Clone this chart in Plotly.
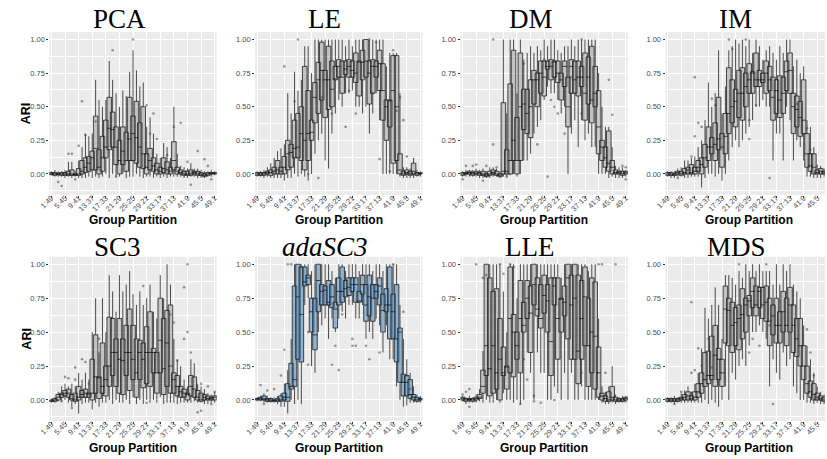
import plotly.graph_objects as go

categories = ["1:49","2:48","3:47","4:46","5:45","6:44","7:43","8:42","9:41","10:40",
              "11:39","12:38","13:37","14:36","15:35","16:34","17:33","18:32","19:31","20:30",
              "21:29","22:28","23:27","24:26","25:25","26:24","27:23","28:22","29:21","30:20",
              "31:19","32:18","33:17","34:16","35:15","36:14","37:13","38:12","39:11","40:10",
              "41:9","42:8","43:7","44:6","45:5","46:4","47:3","48:2","49:1"]
tick_labels = ["1:49","5:45","9:41","13:37","17:33","21:29","25:25","29:21","33:17","37:13","41:9","45:5","49:1"]
y_ticks = [0.0, 0.25, 0.5, 0.75, 1.0]
y_tick_text = ["0.00", "0.25", "0.50", "0.75", "1.00"]

# (lower whisker, q1, median, q3, upper whisker) per group partition
PCA = [(-0.01,-0.005,0.0,0.01,0.02),(-0.02,-0.01,0.0,0.01,0.03),(-0.02,-0.005,0.0,0.005,0.02),(-0.02,-0.01,0.0,0.01,0.02),
       (-0.03,-0.01,0.0,0.01,0.03),(-0.02,-0.01,0.0,0.02,0.09),(-0.03,-0.01,0.0,0.03,0.09),(-0.02,-0.01,-0.005,0.0,0.02),
       (-0.03,-0.01,0.0,0.04,0.1),(-0.03,0.0,0.02,0.1,0.2),(-0.03,0.01,0.05,0.12,0.3),(-0.02,0.02,0.08,0.13,0.28),
       (-0.03,0.03,0.12,0.17,0.3),(-0.02,0.03,0.19,0.43,0.7),(-0.03,0.0,0.05,0.18,0.55),(-0.02,0.02,0.12,0.28,0.5),
       (0.0,0.12,0.2,0.4,0.55),(-0.03,0.18,0.34,0.57,0.84),(0.0,0.2,0.33,0.46,0.7),(-0.02,0.07,0.2,0.35,0.6),
       (-0.02,0.0,0.1,0.25,0.5),(0.0,0.07,0.17,0.35,0.62),(-0.03,0.02,0.1,0.31,0.58),(-0.02,0.1,0.26,0.57,0.76),
       (-0.02,0.1,0.3,0.43,0.92),(0.0,0.08,0.27,0.54,0.77),(-0.02,0.05,0.2,0.38,0.65),(-0.03,0.04,0.15,0.5,0.68),
       (-0.02,0.0,0.05,0.15,0.35),(-0.02,0.03,0.1,0.19,0.42),(-0.03,0.02,0.06,0.12,0.3),(-0.02,0.0,0.03,0.08,0.15),
       (-0.03,0.0,0.02,0.05,0.12),(-0.02,0.01,0.04,0.12,0.23),(-0.03,0.0,0.03,0.09,0.2),(-0.02,0.0,0.02,0.05,0.12),
       (-0.02,0.03,0.1,0.24,0.5),(-0.02,0.0,0.02,0.05,0.15),(-0.02,0.0,0.01,0.03,0.06),(-0.03,-0.01,0.0,0.02,0.05),
       (-0.03,-0.01,0.0,0.02,0.04),(-0.02,-0.01,0.0,0.03,0.08),(-0.02,0.0,0.01,0.02,0.04),(-0.03,-0.01,0.0,0.02,0.04),
       (-0.03,-0.01,0.0,0.01,0.03),(-0.03,-0.02,-0.01,0.0,0.02),(-0.02,-0.01,0.0,0.01,0.02),(-0.02,0.0,0.005,0.01,0.03),
       (-0.01,0.0,0.005,0.01,0.02)]
PCA_out = [(3,-0.06),(4,-0.09),(6,0.15),(7,0.15),(8,-0.04),(9,0.21),(10,0.54),(11,0.29),(14,0.39),(19,0.92),(25,1.0),
           (20,-0.02),(29,0.51),(30,0.3),(31,0.45),(32,0.26),(35,0.14),(37,0.35),(39,0.38),(41,0.09),(42,-0.08),
           (44,0.17),(46,0.11),(47,0.06),(48,-0.04)]

LE = [(-0.02,-0.01,0.0,0.01,0.02),(-0.02,-0.01,0.0,0.01,0.02),(-0.03,-0.01,0.0,0.01,0.03),(-0.02,0.0,0.01,0.02,0.05),
      (-0.03,-0.01,0.01,0.03,0.08),(-0.03,0.0,0.02,0.05,0.12),(-0.03,0.0,0.03,0.1,0.17),(-0.03,0.0,0.02,0.05,0.19),
      (-0.05,0.0,0.05,0.13,0.22),(-0.03,0.03,0.15,0.25,0.6),(-0.03,0.05,0.16,0.22,0.45),(0.0,0.12,0.19,0.4,0.76),
      (-0.02,0.12,0.2,0.45,0.62),(0.0,0.1,0.3,0.5,0.7),(-0.02,0.03,0.25,0.8,0.95),(-0.05,0.1,0.3,0.62,0.95),
      (0.0,0.25,0.31,0.4,0.75),(0.15,0.38,0.57,0.68,1.0),(0.25,0.45,0.7,0.83,1.0),(0.3,0.55,0.77,0.98,1.0),
      (0.1,0.42,0.7,0.77,1.0),(0.04,0.48,0.7,0.95,1.0),(0.3,0.5,0.63,0.84,1.0),(0.45,0.7,0.7,0.8,1.0),
      (0.55,0.72,0.8,0.85,1.0),(0.5,0.6,0.72,0.84,1.0),(0.6,0.74,0.78,0.84,0.95),(0.6,0.72,0.8,0.85,1.0),
      (0.62,0.72,0.77,0.84,0.95),(0.5,0.68,0.75,0.9,1.0),(0.5,0.58,0.84,0.84,1.0),(0.45,0.7,0.83,0.92,1.0),
      (0.5,0.72,0.84,1.0,1.0),(0.3,0.52,0.75,0.84,1.0),(0.45,0.6,0.8,0.85,1.0),(0.6,0.72,0.8,0.84,1.0),
      (0.4,0.62,0.82,0.92,1.0),(0.0,0.4,0.62,0.82,1.0),(0.0,0.25,0.5,0.55,0.8),(0.0,0.35,0.55,0.55,0.9),
      (0.0,0.08,0.62,0.88,0.9),(0.0,0.1,0.5,0.88,0.9),(-0.02,0.0,0.03,0.15,0.6),(-0.03,-0.01,0.0,0.02,0.05),
      (-0.03,0.0,0.01,0.03,0.05),(-0.03,-0.01,0.0,0.02,0.04),(-0.03,0.0,0.02,0.08,0.12),(-0.02,-0.01,0.0,0.01,0.03),
      (-0.02,0.0,0.0,0.01,0.02)]
LE_out = [(9,0.8),(12,0.54),(13,1.0),(16,0.0),(19,-0.03),(20,0.57),(23,0.45),(27,0.35),(28,0.62),(30,0.45),(34,1.0),
          (35,0.6),(36,0.98),(37,0.11),(40,0.02),(41,0.92),(43,0.57),(42,0.47),(44,0.4),(45,0.13),(46,0.0)]

DM = [(-0.02,-0.01,0.0,0.01,0.02),(-0.02,0.0,0.0,0.01,0.03),(-0.02,0.0,0.01,0.02,0.03),(-0.02,-0.01,0.0,0.01,0.03),
      (-0.02,0.0,0.0,0.02,0.04),(-0.03,-0.01,0.0,0.01,0.03),(-0.03,-0.01,0.0,0.02,0.04),(-0.03,-0.02,-0.01,0.0,0.02),
      (-0.03,-0.01,0.0,0.02,0.05),(-0.02,0.0,0.01,0.03,0.05),(-0.02,-0.01,0.0,0.02,0.04),(-0.03,-0.02,-0.01,0.0,0.02),
      (-0.02,0.0,0.02,0.53,1.0),(-0.02,0.0,0.02,0.18,0.45),(-0.01,0.0,0.1,0.67,1.0),(0.0,0.1,0.25,0.92,1.0),
      (-0.02,0.0,0.1,0.42,0.6),(0.0,0.1,0.5,0.9,1.0),(0.1,0.33,0.52,0.63,0.85),(0.1,0.3,0.45,0.63,0.9),
      (0.15,0.27,0.5,0.7,0.95),(0.3,0.52,0.7,0.77,0.9),(0.35,0.5,0.7,0.75,0.95),(0.4,0.6,0.75,0.84,0.92),
      (0.55,0.58,0.72,0.84,1.0),(0.65,0.78,0.8,0.84,0.95),(0.6,0.7,0.8,0.85,1.0),(0.6,0.72,0.84,0.84,1.0),
      (0.55,0.68,0.75,0.84,0.92),(0.45,0.55,0.7,0.75,0.9),(0.5,0.65,0.8,0.84,0.95),(0.0,0.35,0.5,0.72,0.95),
      (0.3,0.6,0.8,0.85,1.0),(0.4,0.6,0.7,0.84,0.95),(0.2,0.58,0.72,0.84,1.0),(0.4,0.65,0.72,0.8,1.0),
      (0.25,0.4,0.6,0.9,1.0),(0.3,0.52,0.72,0.87,1.0),(0.2,0.38,0.55,0.95,1.0),(0.2,0.5,0.6,0.8,1.0),
      (0.0,0.15,0.35,0.62,0.75),(0.0,0.1,0.2,0.25,0.5),(0.0,0.05,0.12,0.2,0.35),(-0.03,0.02,0.08,0.32,0.35),
      (-0.02,0.0,0.05,0.1,0.2),(-0.03,0.0,0.01,0.03,0.06),(-0.03,0.0,0.01,0.02,0.05),(-0.03,-0.01,0.0,0.02,0.05),
      (-0.02,0.0,0.01,0.02,0.03)]
DM_out = [(1,-0.04),(2,0.06),(4,0.06),(5,0.07),(7,-0.05),(8,0.06),(10,1.0),(10,0.22),(11,0.05),(14,-0.02),(19,0.82),
          (23,0.22),(25,0.85),(26,-0.02),(27,0.55),(28,0.5),(29,0.45),(31,0.3),(33,0.72),(36,1.0),(36,0.45),(44,0.7),
          (45,0.44),(48,0.06),(49,-0.04),(49,0.05)]

IM = [(-0.02,-0.01,0.0,0.01,0.02),(-0.03,-0.01,0.0,0.01,0.02),(-0.03,-0.01,-0.01,0.0,0.02),(-0.02,0.0,0.01,0.02,0.04),
      (-0.02,-0.01,0.0,0.02,0.05),(-0.03,0.0,0.01,0.04,0.1),(-0.03,0.0,0.03,0.05,0.1),(-0.02,0.0,0.01,0.07,0.12),
      (-0.02,0.0,0.02,0.05,0.13),(-0.02,0.02,0.05,0.1,0.2),(-0.1,0.0,0.07,0.12,0.25),(-0.03,0.05,0.12,0.22,0.4),
      (0.0,0.1,0.2,0.35,0.68),(0.0,0.15,0.2,0.27,0.5),(-0.02,0.1,0.22,0.38,0.6),(0.0,0.18,0.26,0.57,0.92),
      (-0.05,0.05,0.2,0.3,0.45),(0.0,0.15,0.28,0.45,0.65),(0.1,0.3,0.45,0.79,0.92),(0.2,0.38,0.5,0.7,0.95),
      (0.25,0.35,0.54,0.63,1.0),(0.2,0.42,0.6,0.77,0.97),(0.25,0.4,0.6,0.79,1.0),(0.3,0.5,0.65,0.75,0.95),
      (0.35,0.6,0.7,0.82,1.0),(0.4,0.6,0.75,0.76,0.9),(0.5,0.65,0.7,0.9,1.0),(0.5,0.65,0.7,0.77,0.95),
      (0.55,0.68,0.7,0.75,0.85),(0.5,0.6,0.75,0.84,0.92),(0.5,0.62,0.7,0.8,0.95),(0.1,0.4,0.57,0.72,0.9),
      (0.3,0.45,0.62,0.7,0.85),(0.3,0.42,0.55,0.73,0.95),(0.1,0.45,0.6,0.72,0.9),(0.5,0.62,0.76,0.84,1.0),
      (0.4,0.6,0.77,0.9,1.0),(0.1,0.3,0.5,0.6,0.8),(0.25,0.35,0.48,0.58,0.85),(0.2,0.28,0.42,0.54,0.75),
      (0.1,0.3,0.4,0.7,0.8),(-0.02,0.05,0.15,0.3,0.4),(-0.02,0.02,0.06,0.15,0.35),(-0.03,0.0,0.05,0.15,0.2),
      (-0.03,0.0,0.01,0.03,0.07),(-0.03,0.0,0.02,0.04,0.06),(-0.02,0.0,0.0,0.02,0.04),(-0.02,0.0,0.01,0.02,0.03),
      (-0.02,0.0,0.0,0.01,0.02)]
IM_out = [(4,-0.03),(8,0.13),(9,0.72),(9,0.28),(10,0.38),(11,0.35),(14,0.56),(15,0.51),(19,1.0),(20,0.93),(24,1.0),
          (25,0.4),(25,0.26),(27,0.51),(31,-0.03),(39,0.52),(42,0.34),(43,0.18),(44,0.01)]

SC3 = [(-0.02,-0.01,-0.01,0.0,0.01),(-0.02,-0.01,0.0,0.01,0.02),(-0.01,0.0,0.02,0.04,0.06),(-0.01,0.02,0.04,0.05,0.1),
       (0.0,0.03,0.05,0.07,0.12),(-0.02,0.02,0.05,0.08,0.1),(-0.05,0.0,0.01,0.04,0.12),(-0.03,-0.01,0.0,0.05,0.1),
       (-0.1,0.0,0.02,0.1,0.2),(-0.03,0.02,0.04,0.07,0.15),(-0.02,0.02,0.05,0.08,0.2),(-0.02,0.02,0.05,0.05,0.15),
       (-0.07,0.0,0.05,0.3,0.5),(-0.02,0.05,0.17,0.48,0.75),(-0.05,0.01,0.17,0.17,0.35),(-0.02,0.05,0.1,0.42,0.75),
       (-0.02,0.03,0.15,0.25,0.5),(0.0,0.1,0.25,0.61,0.92),(-0.03,0.18,0.35,0.6,0.8),(0.0,0.1,0.35,0.45,0.65),
       (-0.02,0.05,0.3,0.6,0.92),(-0.02,0.04,0.29,0.45,0.8),(0.0,0.18,0.35,0.55,0.85),(-0.03,0.07,0.35,0.67,0.95),
       (0.02,0.15,0.3,0.55,0.78),(-0.03,0.02,0.2,0.45,0.7),(0.0,0.15,0.35,0.44,0.8),(-0.03,0.09,0.3,0.42,0.7),
       (0.0,0.12,0.35,0.54,0.75),(-0.02,0.1,0.35,0.65,0.85),(0.0,0.2,0.35,0.38,0.65),(-0.02,0.05,0.2,0.35,0.6),
       (0.02,0.2,0.44,0.75,0.92),(-0.03,0.04,0.23,0.6,0.75),(-0.02,0.1,0.42,0.66,1.0),(-0.02,0.05,0.25,0.7,0.85),
       (-0.02,0.05,0.15,0.2,0.45),(-0.03,0.03,0.1,0.18,0.3),(-0.02,0.02,0.06,0.1,0.25),(-0.02,0.02,0.05,0.08,0.15),
       (-0.02,0.0,0.04,0.05,0.1),(-0.02,0.03,0.1,0.18,0.3),(-0.01,0.02,0.08,0.17,0.27),(-0.02,0.0,0.02,0.07,0.12),
       (-0.02,-0.01,0.0,0.05,0.1),(-0.03,0.0,0.02,0.04,0.08),(-0.03,0.0,0.01,0.03,0.05),(-0.02,0.0,0.01,0.02,0.04),
       (-0.02,0.0,0.02,0.03,0.06)]
SC3_out = [(4,-0.01),(5,0.17),(6,0.16),(7,-0.06),(8,0.24),(8,0.15),(10,0.3),(11,0.28),(12,0.12),(15,0.45),(28,0.84),
           (29,-0.02),(36,0.63),(37,0.57),(38,0.29),(40,0.45),(40,0.83),(41,0.5),(41,1.0),(42,0.35),(44,-0.09),
           (45,0.12),(45,-0.08),(47,0.1),(48,-0.03),(49,0.06)]

adaSC3 = [(-0.01,0.0,0.01,0.01,0.02),(-0.01,0.0,0.01,0.02,0.03),(-0.02,0.0,0.0,0.03,0.05),(-0.02,-0.01,0.0,0.01,0.03),
          (-0.02,-0.01,0.0,0.01,0.02),(-0.02,-0.01,0.0,0.0,0.02),(-0.03,-0.01,0.0,0.01,0.03),(-0.05,-0.01,0.0,0.03,0.05),
          (-0.05,0.0,0.02,0.05,0.12),(-0.1,-0.01,0.02,0.12,0.22),(0.0,0.08,0.1,0.27,0.45),(-0.03,0.1,0.15,0.84,1.0),
          (0.0,0.3,0.76,1.0,1.0),(-0.03,0.28,0.63,0.98,1.0),(0.7,0.84,0.87,0.98,1.0),(0.75,0.85,0.9,0.92,1.0),
          (0.25,0.5,0.65,0.75,0.95),(0.2,0.37,0.48,0.75,1.0),(0.5,0.65,0.88,1.0,1.0),(0.55,0.7,0.8,0.85,1.0),
          (0.6,0.7,0.81,0.84,1.0),(0.45,0.7,0.72,0.88,1.0),(0.6,0.68,0.76,0.85,0.95),(0.5,0.53,0.67,0.72,0.9),
          (0.6,0.7,0.8,0.9,1.0),(0.65,0.72,0.8,0.98,1.0),(0.6,0.76,0.82,0.88,0.95),(0.7,0.77,0.83,0.9,1.0),
          (0.7,0.8,0.85,0.9,1.0),(0.6,0.72,0.85,0.9,1.0),(0.6,0.72,0.73,0.8,0.95),(0.7,0.78,0.85,0.92,1.0),
          (0.45,0.58,0.7,0.85,1.0),(0.5,0.62,0.76,0.92,1.0),(0.45,0.58,0.75,0.85,0.95),(0.6,0.75,0.8,0.85,1.0),
          (0.55,0.7,0.84,0.9,1.0),(0.35,0.5,0.66,0.78,0.95),(0.55,0.65,0.7,0.82,1.0),(0.3,0.45,0.7,0.98,1.0),
          (0.3,0.45,0.65,0.78,1.0),(0.1,0.28,0.45,0.85,1.0),(0.0,0.13,0.5,0.53,0.7),(-0.05,0.03,0.13,0.19,0.45),
          (-0.04,0.03,0.13,0.18,0.3),(-0.02,0.01,0.04,0.15,0.2),(-0.02,0.0,0.02,0.04,0.1),(-0.02,-0.01,0.0,0.02,0.04),
          (-0.02,0.0,0.01,0.01,0.03)]
adaSC3_out = [(2,0.11),(3,-0.03),(4,0.07),(6,0.08),(8,0.18),(9,0.37),(10,1.0),(11,1.0),(16,0.26),(16,0.5),(23,0.26),
              (24,0.4),(25,0.22),(26,0.63),(29,0.45),(29,0.4),(30,0.4),(33,0.4),(34,0.3),(37,0.35),(41,1.0),(44,0.65),
              (45,0.18),(46,0.08)]

LLE = [(-0.01,0.0,0.01,0.02,0.03),(-0.03,-0.01,0.0,0.01,0.02),(-0.02,0.0,0.0,0.01,0.03),(-0.02,-0.01,0.0,0.01,0.02),
       (-0.02,0.0,0.01,0.02,0.04),(-0.01,0.01,0.02,0.04,0.08),(-0.02,0.05,0.1,0.22,0.36),(0.0,0.18,0.4,1.0,1.0),
       (-0.02,0.03,0.23,0.9,1.0),(-0.02,0.05,0.4,0.8,1.0),(0.0,0.08,0.2,0.82,1.0),(-0.02,0.0,0.3,0.6,1.0),
       (0.05,0.18,0.2,0.39,0.8),(0.0,0.08,0.25,0.25,0.5),(0.0,0.2,0.6,0.98,1.0),(-0.02,0.17,0.5,0.63,1.0),
       (0.0,0.3,0.4,0.5,0.75),(-0.03,0.2,0.6,0.88,1.0),(0.0,0.5,0.55,0.72,1.0),(0.35,0.6,0.75,0.88,1.0),
       (0.2,0.35,0.64,0.84,1.0),(0.0,0.7,0.85,1.0,1.0),(0.35,0.62,0.67,0.9,1.0),(0.2,0.53,0.6,0.85,1.0),
       (0.2,0.64,0.77,0.92,1.0),(0.0,0.5,0.73,0.85,1.0),(0.0,0.18,0.43,0.9,1.0),(0.1,0.7,0.84,0.9,1.0),
       (0.05,0.3,0.6,0.9,1.0),(0.0,0.5,0.75,0.75,0.9),(0.2,0.62,0.72,0.84,1.0),(0.0,0.45,0.9,1.0,1.0),
       (0.2,0.3,0.7,0.92,1.0),(0.0,0.3,0.75,1.0,1.0),(0.0,0.12,0.36,0.92,1.0),(0.1,0.3,0.6,0.88,1.0),
       (0.0,0.4,0.76,0.98,1.0),(0.0,0.1,0.4,0.75,0.95),(0.0,0.2,0.5,0.9,1.0),(0.0,0.08,0.47,0.87,1.0),
       (0.0,0.02,0.2,0.39,0.6),(-0.02,0.0,0.03,0.05,0.1),(-0.03,-0.01,0.01,0.03,0.06),(-0.03,-0.01,0.0,0.06,0.1),
       (-0.02,0.0,0.02,0.1,0.25),(-0.03,-0.01,0.0,0.02,0.04),(-0.02,-0.01,0.0,0.01,0.02),(-0.02,-0.01,0.0,0.01,0.03),
       (-0.02,0.0,0.01,0.02,0.03)]
LLE_out = [(1,0.04),(2,0.06),(3,-0.05),(3,0.08),(5,1.0),(7,0.9),(8,0.92),(12,1.0),(13,0.93),(15,1.0),(16,0.98),
           (18,-0.03),(19,0.3),(20,0.15),(22,0.03),(22,-0.01),(24,-0.02),(28,0.0),(36,0.2),(41,1.0),(42,1.0),
           (43,0.2),(46,1.0)]

MDS = [(-0.02,-0.01,0.0,0.01,0.02),(-0.02,-0.01,0.0,0.01,0.02),(-0.03,-0.01,0.0,0.01,0.03),(-0.02,-0.01,0.0,0.01,0.02),
       (-0.02,0.0,0.01,0.02,0.05),(-0.02,0.0,0.02,0.04,0.07),(-0.02,0.0,0.03,0.06,0.1),(-0.02,0.0,0.01,0.03,0.06),
       (-0.02,0.0,0.02,0.06,0.12),(-0.02,0.02,0.06,0.12,0.2),(-0.02,0.05,0.12,0.2,0.38),(0.0,0.1,0.15,0.35,0.68),
       (-0.03,0.12,0.18,0.36,0.6),(0.0,0.15,0.18,0.47,0.7),(-0.02,0.1,0.33,0.55,0.83),(-0.05,0.15,0.3,0.38,0.7),
       (0.0,0.1,0.2,0.3,0.45),(0.1,0.42,0.67,0.84,0.92),(0.0,0.4,0.66,0.75,0.92),(0.2,0.35,0.55,0.72,0.9),
       (0.15,0.4,0.57,0.68,0.85),(0.25,0.37,0.6,0.7,0.95),(0.3,0.45,0.63,0.82,0.9),(0.25,0.5,0.7,0.75,1.0),
       (0.4,0.62,0.73,0.77,0.95),(0.5,0.68,0.8,0.9,1.0),(0.5,0.62,0.7,0.84,0.95),(0.55,0.68,0.8,0.83,1.0),
       (0.5,0.6,0.7,0.83,0.95),(0.45,0.58,0.72,0.84,0.95),(0.1,0.4,0.58,0.75,0.95),(0.3,0.48,0.62,0.7,0.85),
       (0.2,0.42,0.55,0.75,1.0),(0.15,0.42,0.55,0.65,0.85),(0.35,0.5,0.65,0.8,1.0),(0.25,0.4,0.55,0.75,0.95),
       (0.3,0.5,0.7,0.83,1.0),(0.1,0.35,0.55,0.7,0.85),(0.05,0.32,0.45,0.6,0.8),(0.0,0.25,0.4,0.6,0.75),
       (0.0,0.15,0.25,0.4,0.55),(-0.02,0.05,0.12,0.25,0.4),(-0.02,0.02,0.06,0.14,0.3),(-0.03,0.0,0.04,0.12,0.2),
       (-0.02,0.0,0.02,0.05,0.1),(-0.03,0.0,0.01,0.03,0.06),(-0.03,-0.01,0.0,0.02,0.04),(-0.02,0.0,0.0,0.01,0.03),
       (-0.02,0.0,0.0,0.01,0.02)]
MDS_out = [(3,-0.03),(5,0.06),(8,0.72),(8,0.2),(9,0.22),(10,0.38),(11,0.25),(13,0.45),(14,0.24),(22,1.0),(25,0.35),
           (26,0.45),(28,0.4),(30,1.0),(31,0.55),(32,-0.03),(42,0.52),(43,0.35),(44,0.18),(44,0.01)]

methods = [("PCA", PCA, PCA_out), ("LE", LE, LE_out), ("DM", DM, DM_out), ("IM", IM, IM_out),
           ("SC3", SC3, SC3_out), ("adaSC3", adaSC3, adaSC3_out), ("LLE", LLE, LLE_out), ("MDS", MDS, MDS_out)]

W, H = 827, 459
col_x0 = [39.0, 248.0, 456.7, 665.0]
panel_w = 170.0
row_y = [(32.1, 194.8), (256.8, 421.0)]      # pixel top / bottom of panels
title_cx = [[110, 319, 528, 736], [108, 319, 527, 737]]
title_cy = [19, 247]
xtitle_cy = [220, 448]
Y_RANGE = [-0.155, 1.055]
units_per_px = 49.2 / panel_w

fig = go.Figure()
annotations = []
layout = {}
for k, (name, stats, outs) in enumerate(methods):
    r, c = divmod(k, 4)
    n = k + 1
    xa = "x" if n == 1 else f"x{n}"
    ya = "y" if n == 1 else f"y{n}"
    x0 = col_x0[c]
    x1 = min(x0 + panel_w, W)
    xr_end = -0.6 + (x1 - x0) * units_per_px
    ytop, ybot = row_y[r]
    is_ada = name == "adaSC3"
    fill = "rgba(70,130,180,0.55)" if is_ada else "rgba(110,110,110,0.33)"
    fig.add_trace(go.Box(
        x=categories,
        lowerfence=[s[0] for s in stats], q1=[s[1] for s in stats], median=[s[2] for s in stats],
        q3=[s[3] for s in stats], upperfence=[s[4] for s in stats],
        xaxis=xa, yaxis=ya, fillcolor=fill,
        line=dict(color="rgba(20,20,20,0.75)", width=1),
        width=1.35, whiskerwidth=0, boxpoints=False, showlegend=False, hoverinfo="skip"))
    fig.add_trace(go.Scatter(
        x=[categories[i - 1] for i, _ in outs], y=[v for _, v in outs],
        xaxis=xa, yaxis=ya, mode="markers", showlegend=False, hoverinfo="skip",
        marker=dict(size=2.6, color="rgba(70,70,70,0.55)")))
    xkey = "xaxis" if n == 1 else f"xaxis{n}"
    ykey = "yaxis" if n == 1 else f"yaxis{n}"
    layout[xkey] = dict(
        domain=[x0 / W, x1 / W], anchor=ya, type="category",
        categoryorder="array", categoryarray=categories,
        range=[-0.6, xr_end], tickmode="array", tickvals=tick_labels, ticktext=tick_labels,
        tickangle=-45, tickfont=dict(family="Liberation Sans", size=7.5, color="#4D4D4D"),
        ticklabelstandoff=-7,
        showgrid=True, gridcolor="white", gridwidth=1, ticks="outside", ticklen=2,
        tickcolor="#333333", tickwidth=0.6, zeroline=False, showline=False, fixedrange=True)
    layout[ykey] = dict(
        domain=[1 - ybot / H, 1 - ytop / H], anchor=xa, range=Y_RANGE,
        tickmode="array", tickvals=y_ticks, ticktext=y_tick_text,
        tickfont=dict(family="Liberation Sans", size=7.5, color="#4D4D4D"),
        showgrid=True, gridcolor="white", gridwidth=1, ticks="outside", ticklen=2,
        tickcolor="#333333", tickwidth=0.6, zeroline=False, showline=False,
        minor=dict(tickmode="array", tickvals=[-0.125, 0.125, 0.375, 0.625, 0.875],
                   showgrid=True, gridcolor="white", gridwidth=0.5, ticks=""))
    annotations.append(dict(
        text=(f"<i>{name}</i>" if is_ada else name), x=title_cx[r][c] / W, y=1 - title_cy[r] / H,
        xref="paper", yref="paper", xanchor="center", yanchor="middle", showarrow=False,
        font=dict(family="Liberation Serif", size=27, color="black")))
    annotations.append(dict(
        text="<b>Group Partition</b>", x=(x0 + panel_w / 2) / W, y=1 - xtitle_cy[r] / H,
        xref="paper", yref="paper", xanchor="center", yanchor="middle", showarrow=False,
        font=dict(family="Liberation Sans", size=12, color="black")))
    if c == 0:
        annotations.append(dict(
            text="<b>ARI</b>", x=16 / W, y=1 - (ytop + ybot) / 2 / H, textangle=-90,
            xref="paper", yref="paper", xanchor="center", yanchor="middle", showarrow=False,
            font=dict(family="Liberation Sans", size=12.5, color="black")))

fig.update_layout(
    width=W, height=H, margin=dict(l=0, r=0, t=0, b=0),
    paper_bgcolor="white", plot_bgcolor="#EBEBEB",
    annotations=annotations, **layout)

fig.write_html("out.html", config={"displayModeBar": False})
